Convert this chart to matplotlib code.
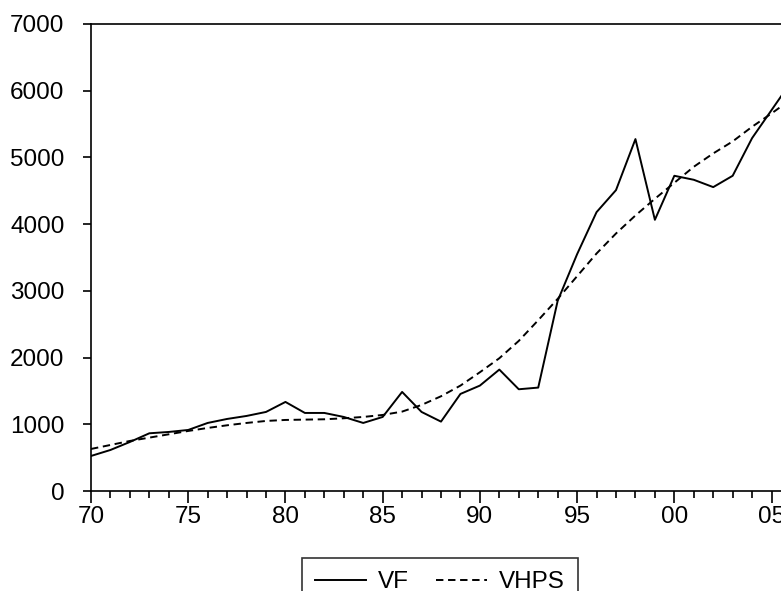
import matplotlib
matplotlib.use("Agg")
import matplotlib.pyplot as plt
from matplotlib.ticker import FixedLocator

plt.rcParams['font.family'] = ['Liberation Sans', 'DejaVu Sans']

years = list(range(1970, 2007))
vf = [525, 615, 735, 865, 885, 915, 1020, 1080, 1125, 1185,
      1335, 1170, 1170, 1110, 1020, 1110, 1485, 1185, 1040, 1455,
      1580, 1820, 1525, 1550, 2850, 3550, 4180, 4510, 5275, 4065,
      4725, 4665, 4555, 4725, 5290, 5710, 6130]
vhps = [630, 690, 750, 800, 850, 900, 945, 985, 1020, 1050,
        1065, 1070, 1075, 1090, 1110, 1140, 1190, 1290, 1420, 1580,
        1780, 1990, 2250, 2560, 2880, 3220, 3560, 3860, 4130, 4380,
        4620, 4860, 5060, 5240, 5460, 5660, 5870]
year_labels = ["70", "75", "80", "85", "90", "95", "00", "05"]

W, H = 781, 591
fig = plt.figure(figsize=(W / 100, H / 100), dpi=100)
ax = fig.add_axes([91 / W, 1 - 491 / H, (791 - 91) / W, (491 - 24) / H])

ax.plot(years, vf, color="black", lw=1.4, label="VF")
ax.plot(years, vhps, color="black", lw=1.4, dashes=(3.8, 2.4), label="VHPS")

ax.set_xlim(1970, 2006)
ax.set_ylim(0, 7000)
ax.set_xticks(range(1970, 2006, 5))
ax.set_xticklabels(year_labels)
ax.xaxis.set_minor_locator(FixedLocator(range(1970, 2007)))
ax.set_yticks(range(0, 7001, 1000))

for s in ax.spines.values():
    s.set_linewidth(1.2)
ax.tick_params(axis="x", which="major", direction="out", length=8.5, width=1.2,
               labelsize=17.5, pad=2)
ax.tick_params(axis="x", which="minor", direction="out", length=5, width=1.2)
ax.tick_params(axis="y", direction="out", length=6, width=1.2, labelsize=17.5, pad=13)

# legend sits below the axes and runs off the bottom edge, as in the source
leg = fig.legend(loc="upper center", bbox_to_anchor=(440 / W, 1 - 558 / H),
                 ncol=2, fontsize=17.5, frameon=True, fancybox=False,
                 handlelength=2.1, handletextpad=0.5, columnspacing=1.1,
                 borderpad=0.55, borderaxespad=0)
leg.get_frame().set_edgecolor("black")
leg.get_frame().set_linewidth(1.2)

fig.savefig("out.png", dpi=100)
